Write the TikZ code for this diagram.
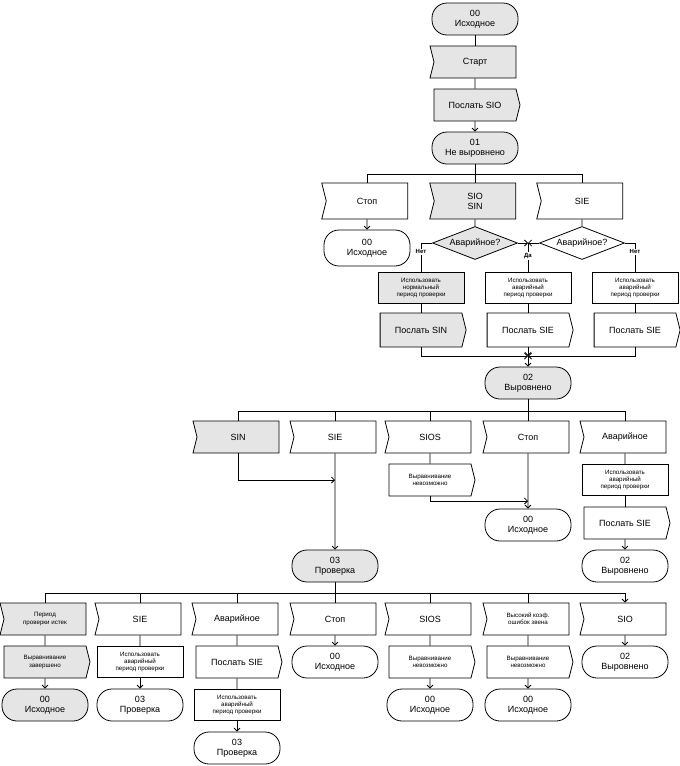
\documentclass[tikz,border=0pt]{standalone}
\usepackage{fontspec}
\setmainfont{Liberation Sans}
\usetikzlibrary{shapes.symbols, shapes.geometric, arrows.meta, positioning}
\tikzset{
    >={Straight Barb[length=3pt,width=6pt]}, % small open arrow heads
    sdlbox/.style={draw, line width=0.8pt, align=center, font=\fontsize{9}{10}\selectfont, inner sep=1pt},
    status/.style={sdlbox, rectangle, rounded corners=15pt, minimum width=86pt, minimum height=32pt}, % state
    insig/.style={sdlbox, signal, signal to=nowhere, signal from=west, signal pointer angle=152, minimum width=86pt, minimum height=32pt},
    outsig/.style={sdlbox, signal, signal to=east, signal from=nowhere, signal pointer angle=152, minimum width=86pt, minimum height=32pt},
    task/.style={sdlbox, rectangle, minimum width=86pt, minimum height=31pt},
    choice/.style={sdlbox, diamond, aspect=2.6, minimum width=85pt, minimum height=33pt, inner sep=0pt},
    smalltxt/.style={font=\fontsize{6.2}{7.4}\selectfont},
    greyed/.style={fill=gray!20},
    yesno/.style={fill=white, inner sep=1pt, font=\bfseries\fontsize{6}{7}\selectfont}
}

\begin{document}
\begin{tikzpicture}[x=1pt, y=-1pt, node distance=43pt, line width=0.8pt]
    \useasboundingbox (0,0) rectangle (680,766);

    % start column
    \node[status, greyed] (s00) at (475,19) {00\\Исходное};
    \node[insig, greyed] (start) [below of=s00] {Старт};
    \node[outsig, greyed] (sendsio) [below of=start] {Послать SIO};
    \node[status, greyed] (s01) [below of=sendsio] {01\\Не выровнено};
    \coordinate (b1) at (475,174);

    % state 01
    \node[insig, minimum height=36pt] (stop1) at (367,201) {Стоп};
    \node[insig, greyed, minimum height=36pt] (siosin) at (475,201) {SIO\\SIN};
    \node[insig, minimum height=36pt] (sie1) at (582,201) {SIE};
    \node[status, minimum height=36pt] (s00b) at (367,248) {00\\Исходное};
    \node[choice, greyed] (ask1) at (475,243) {Аварийное?};
    \node[choice] (ask2) at (582,243) {Аварийное?};
    \coordinate (yes) at (528,243);
    \node[task, greyed, smalltxt] (norm) at (421,288) {Использовать\\нормальный\\период проверки};
    \node[task, smalltxt] (emrg1) at (528,288) {Использовать\\аварийный\\период проверки};
    \node[task, smalltxt] (emrg2) at (635,288) {Использовать\\аварийный\\период проверки};
    \node[outsig, greyed, minimum height=34pt] (sendsin) [below of=norm, node distance=42pt] {Послать SIN};
    \node[outsig, minimum height=34pt] (sendsie1) [below of=emrg1, node distance=42pt] {Послать SIE};
    \node[outsig, minimum height=34pt] (sendsie2) [below of=emrg2, node distance=42pt] {Послать SIE};
    \coordinate (m1) at (528,356);

    % state 02
    \node[status, greyed] (s02) at (528,383) {02\\Выровнено};
    \coordinate (b2) at (528,411);
    \node[insig, greyed] (sin) at (238,437) {SIN};
    \node[insig] (sie2) at (335,437) {SIE};
    \node[insig] (sios1) at (430,437) {SIOS};
    \node[insig] (stop2) at (528,437) {Стоп};
    \node[insig] (emrg) at (625,437) {Аварийное};
    \node[outsig, smalltxt] (fail1) [below of=sios1] {Выравнивание\\невозможно};
    \node[status] (s00c) at (528,525) {00\\Исходное};
    \node[task, smalltxt] (emrg3) [below of=emrg] {Использовать\\аварийный\\период проверки};
    \node[outsig] (sendsie3) [below of=emrg3] {Послать SIE};
    \node[status] (s02b) [below of=sendsie3] {02\\Выровнено};
    \coordinate (j1) at (335,480);
    \coordinate (j2) at (528,501);

    % state 03
    \node[status, greyed] (s03) at (335,566) {03\\Проверка};
    \coordinate (b3) at (335,593);
    \node[insig, greyed, smalltxt] (expired) at (45,619) {Период\\проверки истек};
    \node[insig] (sie3) at (140,619) {SIE};
    \node[insig] (emrg4) at (237,619) {Аварийное};
    \node[insig] (stop3) at (335,619) {Стоп};
    \node[insig] (sios2) at (430,619) {SIOS};
    \node[insig, smalltxt] (higherr) at (528,619) {Высокий коэф.\\ошибок звена};
    \node[insig] (sio) at (625,619) {SIO};
    \node[outsig, greyed, smalltxt] (done) [below of=expired] {Выравнивание\\завершено};
    \node[task, smalltxt] (emrg5) [below of=sie3] {Использовать\\аварийный\\период проверки};
    \node[outsig] (sendsie4) [below of=emrg4] {Послать SIE};
    \node[status] (s00d) [below of=stop3] {00\\Исходное};
    \node[outsig, smalltxt] (fail2) [below of=sios2] {Выравнивание\\невозможно};
    \node[outsig, smalltxt] (fail3) [below of=higherr] {Выравнивание\\невозможно};
    \node[status] (s02c) [below of=sio] {02\\Выровнено};
    \node[status, greyed] (s00e) [below of=done] {00\\Исходное};
    \node[status] (s03b) [below of=emrg5] {03\\Проверка};
    \node[task, smalltxt] (emrg6) [below of=sendsie4] {Использовать\\аварийный\\период проверки};
    \node[status] (s00f) [below of=fail2] {00\\Исходное};
    \node[status] (s00g) [below of=fail3] {00\\Исходное};
    \node[status] (s03c) [below of=emrg6] {03\\Проверка};

    \draw (s00) -- (start);
    \draw (start) -- (sendsio);
    \draw[->] (sendsio) -- (s01);
    \draw (s01) -- (b1);
    \draw (b1) -| (stop1);
    \draw (b1) -- (siosin);
    \draw (b1) -| (sie1);
    \draw[->] (stop1) -- (s00b);
    \draw (siosin) -- (ask1);
    \draw (sie1) -- (ask2);
    \draw (ask1.west) -| node[yesno, pos=0.65] {Нет} (norm);
    \draw[->] (ask1.east) -- (yes);
    \draw[->] (ask2.west) -- (yes);
    \draw (yes) -- node[yesno, pos=0.45] {Да} (emrg1);
    \draw (ask2.east) -| node[yesno, pos=0.65] {Нет} (emrg2);
    \draw (norm) -- (sendsin);
    \draw (emrg1) -- (sendsie1);
    \draw (emrg2) -- (sendsie2);
    \draw[->] (sendsin) |- (m1);
    \draw[->] (sendsie2) |- (m1);
    \draw[->] (sendsie1) -- (m1);
    \draw[->] (m1) -- (s02);

    \draw (s02) -- (b2);
    \draw (b2) -| (sin);
    \draw (b2) -| (sie2);
    \draw (b2) -| (sios1);
    \draw (b2) -- (stop2);
    \draw (b2) -| (emrg);
    \draw[->] (sin) |- (j1);
    \draw[->] (sie2) -- (s03);
    \draw (sios1) -- (fail1);
    \draw[->] (fail1) |- (j2);
    \draw[->] (stop2) -- (s00c);
    \draw (emrg) -- (emrg3);
    \draw (emrg3) -- (sendsie3);
    \draw[->] (sendsie3) -- (s02b);

    \draw (s03) -- (b3);
    \draw (b3) -| (expired);
    \draw (b3) -| (sie3);
    \draw (b3) -| (emrg4);
    \draw (b3) -- (stop3);
    \draw (b3) -| (sios2);
    \draw (b3) -| (higherr);
    \draw[->] (b3) -| (sio);
    \draw (expired) -- (done);
    \draw[->] (done) -- (s00e);
    \draw (sie3) -- (emrg5);
    \draw[->] (emrg5) -- (s03b);
    \draw (emrg4) -- (sendsie4);
    \draw (sendsie4) -- (emrg6);
    \draw[->] (emrg6) -- (s03c);
    \draw[->] (stop3) -- (s00d);
    \draw (sios2) -- (fail2);
    \draw[->] (fail2) -- (s00f);
    \draw (higherr) -- (fail3);
    \draw[->] (fail3) -- (s00g);
    \draw[->] (sio) -- (s02c);
\end{tikzpicture}
\end{document}
